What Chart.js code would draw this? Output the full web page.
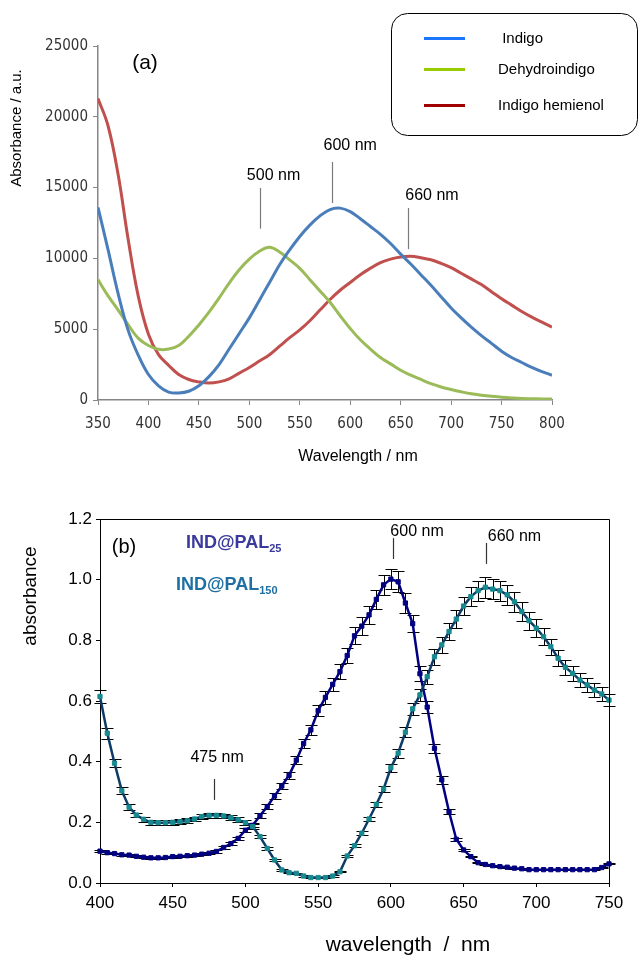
<!DOCTYPE html>
<html>
<head>
<meta charset="utf-8">
<script src="https://cdn.jsdelivr.net/npm/chart.js@4/dist/chart.umd.min.js"></script>
<style>
    html, body { margin: 0; padding: 0; background: #fff; }
    #page { position: relative; width: 640px; height: 956px; }
    #page canvas { position: absolute; left: 0; }
    #spectra-a { top: 0; }
    #spectra-b { top: 480px; }
</style>
</head>
<body>
<div id="page">
    <canvas id="spectra-a" width="640" height="480"></canvas>
    <canvas id="spectra-b" width="640" height="476"></canvas>
</div>
<script>
// (a) calculated spectra, 10 nm steps
const wavelengthsA = [350, 360, 370, 380, 390, 400, 410, 420, 430, 440, 450,
    460, 470, 480, 490, 500, 510, 520, 530, 540, 550,
    560, 570, 580, 590, 600, 610, 620, 630, 640, 650,
    660, 670, 680, 690, 700, 710, 720, 730, 740, 750,
    760, 770, 780, 790, 800];
const indigo = [13600, 10600, 7500, 4900, 3150, 1800, 1000, 560, 500, 620, 1000,
    1650, 2500, 3600, 4700, 5800, 7050, 8300, 9550, 10600, 11550,
    12350, 13000, 13450, 13550, 13300, 12800, 12250, 11700, 11050, 10300,
    9600, 8850, 8100, 7300, 6500, 5800, 5150, 4550, 4000, 3450,
    3000, 2650, 2300, 2000, 1750];
const dehydroindigo = [8500, 7350, 6350, 5300, 4350, 3850, 3580, 3600, 3850, 4500, 5300,
    6200, 7200, 8250, 9200, 9950, 10500, 10780, 10450, 9900, 9300,
    8500, 7700, 6900, 5950, 5050, 4250, 3600, 3000, 2550, 2100,
    1750, 1450, 1150, 920, 740, 580, 440, 340, 260, 200,
    150, 110, 90, 75, 70];
const hemienol = [21300, 19350, 15900, 11300, 7300, 4650, 3200, 2450, 1800, 1450, 1280,
    1200, 1280, 1500, 1900, 2300, 2750, 3200, 3800, 4400, 4950,
    5600, 6350, 7100, 7750, 8300, 8850, 9300, 9700, 9950, 10100,
    10150, 10050, 9900, 9650, 9350, 8950, 8550, 8150, 7650, 7150,
    6700, 6250, 5850, 5500, 5150];

// (b) measured spectra, 5 nm steps, with standard deviations
const wavelengthsB = [400, 405, 410, 415, 420, 425, 430, 435, 440, 445, 450, 455, 460, 465, 470, 475,
    480, 485, 490, 495, 500, 505, 510, 515, 520, 525, 530, 535, 540, 545, 550, 555,
    560, 565, 570, 575, 580, 585, 590, 595, 600, 605, 610, 615, 620, 625, 630, 635,
    640, 645, 650, 655, 660, 665, 670, 675, 680, 685, 690, 695, 700, 705, 710, 715,
    720, 725, 730, 735, 740, 745, 750];
const pal25 = [0.105, 0.100, 0.097, 0.093, 0.092, 0.088, 0.085, 0.083, 0.083, 0.084, 0.087, 0.088, 0.090, 0.092, 0.095, 0.098,
    0.104, 0.117, 0.130, 0.147, 0.174, 0.190, 0.222, 0.252, 0.287, 0.320, 0.355, 0.405, 0.460, 0.505, 0.568, 0.612,
    0.655, 0.697, 0.750, 0.815, 0.847, 0.884, 0.935, 0.983, 1.002, 0.993, 0.923, 0.855, 0.690, 0.580, 0.444, 0.340,
    0.235, 0.144, 0.109, 0.087, 0.067, 0.061, 0.057, 0.054, 0.052, 0.049, 0.047, 0.044, 0.044, 0.044, 0.044, 0.044,
    0.044, 0.044, 0.044, 0.044, 0.044, 0.051, 0.063];
const pal25Err = [0.003, 0.003, 0.003, 0.003, 0.003, 0.003, 0.003, 0.003, 0.003, 0.003, 0.003, 0.003, 0.003, 0.003, 0.003, 0.003,
    0.004, 0.004, 0.005, 0.005, 0.006, 0.007, 0.008, 0.009, 0.010, 0.011, 0.012, 0.014, 0.016, 0.017, 0.019, 0.021,
    0.022, 0.024, 0.026, 0.028, 0.029, 0.030, 0.032, 0.034, 0.034, 0.034, 0.032, 0.029, 0.024, 0.020, 0.015, 0.012,
    0.008, 0.005, 0.004, 0.002, 0.002, 0.002, 0.002, 0.002, 0.002, 0.002, 0.002, 0.002, 0.002, 0.002, 0.002, 0.002,
    0.002, 0.002, 0.002, 0.002, 0.002, 0.002, 0.002];
const pal150 = [0.615, 0.494, 0.395, 0.304, 0.250, 0.224, 0.210, 0.200, 0.199, 0.199, 0.200, 0.202, 0.205, 0.211, 0.219, 0.223,
    0.223, 0.221, 0.215, 0.208, 0.199, 0.186, 0.153, 0.114, 0.076, 0.043, 0.034, 0.032, 0.023, 0.018, 0.018, 0.018,
    0.023, 0.037, 0.089, 0.123, 0.164, 0.211, 0.259, 0.310, 0.380, 0.428, 0.497, 0.574, 0.620, 0.680, 0.746, 0.785,
    0.829, 0.870, 0.913, 0.944, 0.964, 0.975, 0.969, 0.964, 0.950, 0.927, 0.895, 0.865, 0.840, 0.812, 0.779, 0.741,
    0.711, 0.691, 0.669, 0.653, 0.636, 0.623, 0.603];
const pal150Err = [0.022, 0.018, 0.014, 0.011, 0.009, 0.008, 0.008, 0.008, 0.008, 0.008, 0.008, 0.008, 0.008, 0.008, 0.008, 0.008,
    0.008, 0.008, 0.008, 0.008, 0.008, 0.007, 0.006, 0.004, 0.003, 0.002, 0.002, 0.002, 0.002, 0.002, 0.002, 0.002,
    0.002, 0.002, 0.003, 0.004, 0.006, 0.008, 0.009, 0.011, 0.013, 0.015, 0.017, 0.020, 0.021, 0.023, 0.026, 0.027,
    0.028, 0.030, 0.031, 0.032, 0.033, 0.034, 0.034, 0.033, 0.033, 0.032, 0.031, 0.030, 0.029, 0.028, 0.027, 0.026,
    0.025, 0.024, 0.023, 0.023, 0.022, 0.022, 0.021];

// peak markers: label position and a short vertical stroke, in data units
const peaksA = [
    {text: "500 nm", labelX: 524, labelY: 15820, x: 511, top: 14970, bottom: 12100},
    {text: "600 nm", labelX: 600, labelY: 17940, x: 582, top: 16810, bottom: 13910},
    {text: "660 nm", labelX: 681, labelY: 14410, x: 657, top: 13560, bottom: 10660},
];
const peaksB = [
    {text: "600 nm", labelX: 618, labelY: 1.157, x: 601.5, top: 1.137, bottom: 1.068},
    {text: "660 nm", labelX: 685, labelY: 1.141, x: 665.4, top: 1.121, bottom: 1.052},
    {text: "475 nm", labelX: 480.5, labelY: 0.415, x: 478.4, top: 0.343, bottom: 0.274},
];

const SANS = "'Liberation Sans', Arial, sans-serif";
const NARROW = "'Liberation Sans Narrow', 'DejaVu Sans Condensed', sans-serif";

const toPoints = (xs, ys) => xs.map((x, i) => ({x: x, y: ys[i]}));

function drawPeaks(chart, peaks, color) {
    const ctx = chart.ctx, xs = chart.scales.x, ys = chart.scales.y;
    ctx.save();
    ctx.font = "16px " + SANS;
    ctx.fillStyle = "#000";
    ctx.textAlign = "center";
    ctx.textBaseline = "middle";
    ctx.strokeStyle = color;
    ctx.lineWidth = 1.2;
    peaks.forEach(p => {
        ctx.fillText(p.text, xs.getPixelForValue(p.labelX), ys.getPixelForValue(p.labelY));
        const x = Math.round(xs.getPixelForValue(p.x)) + 0.5;
        ctx.beginPath();
        ctx.moveTo(x, ys.getPixelForValue(p.top));
        ctx.lineTo(x, ys.getPixelForValue(p.bottom));
        ctx.stroke();
    });
    ctx.restore();
}

function drawRotated(ctx, text, x, y, font) {
    ctx.save();
    ctx.translate(x, y);
    ctx.rotate(-Math.PI / 2);
    ctx.font = font;
    ctx.fillStyle = "#000";
    ctx.textAlign = "center";
    ctx.textBaseline = "middle";
    ctx.fillText(text, 0, 0);
    ctx.restore();
}

const panelAExtras = {
    id: "panelAExtras",
    afterDraw(chart) {
        const ctx = chart.ctx;
        drawPeaks(chart, peaksA, "#7a7a7a");

        ctx.save();
        ctx.fillStyle = "#000";
        ctx.textAlign = "center";
        ctx.textBaseline = "middle";
        ctx.font = "21px " + SANS;
        ctx.fillText("(a)", 145, 63);
        ctx.font = "16px " + SANS;
        ctx.fillText("Wavelength / nm", 358, 457);
        ctx.restore();
        drawRotated(ctx, "Absorbance / a.u.", 17, 128, "15px " + SANS);

        // legend box
        ctx.save();
        ctx.strokeStyle = "#000";
        ctx.lineWidth = 1;
        ctx.beginPath();
        ctx.roundRect(391.5, 13.5, 246, 122, 16);
        ctx.stroke();
        const entries = [
            ["#1a75ff", " Indigo", 38.5],
            ["#99cc00", "Dehydroindigo", 69.5],
            ["#a00000", "Indigo hemienol", 105.5],
        ];
        ctx.font = "15px " + SANS;
        ctx.fillStyle = "#000";
        ctx.textBaseline = "middle";
        entries.forEach(([color, label, y]) => {
            ctx.strokeStyle = color;
            ctx.lineWidth = 3;
            ctx.beginPath();
            ctx.moveTo(424, y);
            ctx.lineTo(465, y);
            ctx.stroke();
            ctx.fillText(label, 498, y);
        });
        ctx.restore();
    }
};

const errorBars = {
    id: "errorBars",
    beforeDatasetsDraw(chart) {
        const ctx = chart.ctx, ys = chart.scales.y;
        ctx.save();
        ctx.strokeStyle = "#000";
        ctx.lineWidth = 1;
        chart.data.datasets.forEach((ds, i) => {
            chart.getDatasetMeta(i).data.forEach((pt, j) => {
                const v = ds.data[j].y, e = ds.errors[j];
                const x = Math.round(pt.x) + 0.5;
                const y1 = Math.round(ys.getPixelForValue(v + e)) + 0.5;
                const y2 = Math.round(ys.getPixelForValue(v - e)) + 0.5;
                ctx.beginPath();
                ctx.moveTo(x, y1);
                ctx.lineTo(x, y2);
                ctx.moveTo(x - 6, y1);
                ctx.lineTo(x + 6, y1);
                ctx.moveTo(x - 6, y2);
                ctx.lineTo(x + 6, y2);
                ctx.stroke();
            });
        });
        ctx.restore();
    }
};

const panelBExtras = {
    id: "panelBExtras",
    afterDraw(chart) {
        const ctx = chart.ctx, area = chart.chartArea;

        // closing frame on top and right
        ctx.save();
        ctx.strokeStyle = "#000";
        ctx.lineWidth = 1;
        ctx.beginPath();
        ctx.moveTo(area.left, Math.round(area.top) + 0.5);
        ctx.lineTo(Math.round(area.right) + 0.5, Math.round(area.top) + 0.5);
        ctx.lineTo(Math.round(area.right) + 0.5, area.bottom);
        ctx.stroke();
        ctx.restore();

        drawPeaks(chart, peaksB, "#333");

        ctx.save();
        ctx.fillStyle = "#000";
        ctx.textAlign = "center";
        ctx.textBaseline = "middle";
        ctx.font = "20px " + SANS;
        ctx.fillText("(b)", 124, 67);
        ctx.font = "21px " + SANS;
        ctx.fillText("wavelength  /  nm", 408, 465);

        ctx.textAlign = "left";
        const sample = (name, sub, x, y, color) => {
            ctx.fillStyle = color;
            ctx.font = "bold 18px " + SANS;
            ctx.fillText(name, x, y);
            const w = ctx.measureText(name).width;
            ctx.font = "bold 11px " + SANS;
            ctx.fillText(sub, x + w, y + 6);
        };
        sample("IND@PAL", "25", 186, 63, "#3a3a9c");
        sample("IND@PAL", "150", 176, 105, "#1f6fa3");
        ctx.restore();
        drawRotated(ctx, "absorbance", 31, 116, "19px " + SANS);
    }
};

const curve = (label, data, color) => ({
    label: label,
    data: data,
    borderColor: color,
    borderWidth: 3,
    pointRadius: 0,
    tension: 0.4,
    fill: false,
});

new Chart(document.getElementById("spectra-a"), {
    type: "line",
    data: {
        datasets: [
            curve("Indigo", toPoints(wavelengthsA, indigo), "#4a7ebb"),
            curve("Dehydroindigo", toPoints(wavelengthsA, dehydroindigo), "#9bbb59"),
            curve("Indigo hemienol", toPoints(wavelengthsA, hemienol), "#c0504d"),
        ],
    },
    options: {
        responsive: false,
        animation: false,
        events: [],
        layout: {padding: {left: 38, right: 88, top: 46, bottom: 40}},
        plugins: {legend: {display: false}, tooltip: {enabled: false}},
        scales: {
            x: {
                type: "linear",
                min: 350,
                max: 800,
                afterFit: scale => { scale.height = 40; },
                ticks: {stepSize: 50, maxRotation: 0, autoSkip: false, padding: 10, color: "#333", font: {family: NARROW, size: 15}},
                grid: {drawOnChartArea: false, tickLength: 5, color: "#868686"},
                border: {color: "#868686", width: 1.5},
            },
            y: {
                min: 0,
                max: 25000,
                afterFit: scale => { scale.width = 60; },
                ticks: {stepSize: 5000, padding: 5, color: "#333", font: {family: NARROW, size: 15}, callback: v => String(v)},
                grid: {drawOnChartArea: false, tickLength: 5, color: "#868686"},
                border: {color: "#868686", width: 1.5},
            },
        },
    },
    plugins: [panelAExtras],
});

const series = (label, data, errors, line, marker) => ({
    label: label,
    data: data,
    errors: errors,
    borderColor: line,
    borderWidth: 2.5,
    pointStyle: "rect",
    pointRadius: 3,
    pointBackgroundColor: marker,
    pointBorderColor: marker,
    pointBorderWidth: 1,
    tension: 0,
    clip: false,
    fill: false,
});

new Chart(document.getElementById("spectra-b"), {
    type: "line",
    data: {
        datasets: [
            series("IND@PAL150", toPoints(wavelengthsB, pal150), pal150Err, "#0d3b66", "#178a8f"),
            series("IND@PAL25", toPoints(wavelengthsB, pal25), pal25Err, "#000080", "#000080"),
        ],
    },
    options: {
        responsive: false,
        animation: false,
        events: [],
        layout: {padding: {left: 40, right: 31, top: 39, bottom: 23}},
        plugins: {legend: {display: false}, tooltip: {enabled: false}},
        scales: {
            x: {
                type: "linear",
                min: 400,
                max: 750,
                afterFit: scale => { scale.height = 50; },
                ticks: {stepSize: 50, maxRotation: 0, autoSkip: false, padding: 6, color: "#000", font: {family: SANS, size: 17}},
                grid: {drawOnChartArea: false, tickLength: 4, color: "#000"},
                border: {color: "#000", width: 1},
            },
            y: {
                min: 0,
                max: 1.2,
                afterFit: scale => { scale.width = 60; },
                ticks: {stepSize: 0.2, padding: 4, color: "#000", font: {family: SANS, size: 17}, callback: v => v.toFixed(1)},
                grid: {drawOnChartArea: false, tickLength: 4, color: "#000"},
                border: {color: "#000", width: 1},
            },
        },
    },
    plugins: [errorBars, panelBExtras],
});
</script>
</body>
</html>
